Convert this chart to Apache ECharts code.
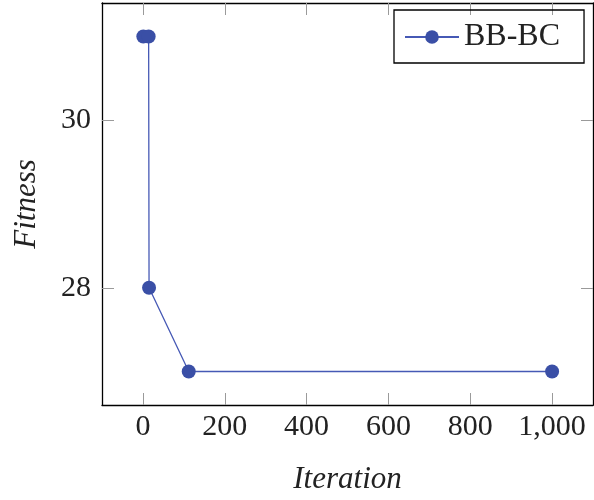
<!DOCTYPE html>
<html>
<head>
<meta charset="utf-8">
<script src="https://cdn.jsdelivr.net/npm/echarts@6/dist/echarts.min.js"></script>
<style>html,body{margin:0;padding:0;background:#fff;}#c{width:594px;height:500px;}</style>
</head>
<body>
<div id="c"></div>
<script>
const seriesName = 'BB-BC';
const iterations = [1, 14, 15, 112, 1000];
const fitness = [31, 31, 28, 27, 27];
const xTicks = [0, 200, 400, 600, 800, 1000];
const yTicks = [28, 30];
const xTitle = 'Iteration';
const yTitle = 'Fitness';

const FONT = '"Liberation Serif", "DejaVu Serif", serif';
const fmt = v => String(v).replace(/\B(?=(\d{3})+(?!\d))/g, ',');
const tickStyle = {show: true, inside: true, length: 12, lineStyle: {color: '#9a9a9a', width: 1}};
const lineAx = {show: true, onZero: false, lineStyle: {color: '#000', width: 1.3}};

const chart = echarts.init(document.getElementById('c'), null, {renderer: 'canvas'});
chart.setOption({
  animation: false,
  backgroundColor: '#fff',
  grid: {left: 102, right: 1, top: 3, bottom: 95, containLabel: false},
  legend: {
    show: true,
    left: 394, top: 10,
    orient: 'horizontal',
    padding: [11, 24, 10, 10],
    borderColor: '#000', borderWidth: 1.3,
    itemWidth: 54, itemHeight: 17,
    textStyle: {fontFamily: FONT, fontSize: 32, color: '#222'},
    data: [seriesName]
  },
  xAxis: [{
    type: 'value', position: 'bottom', min: -100, max: 1100,
    name: xTitle, nameLocation: 'middle', nameGap: 59,
    nameTextStyle: {fontFamily: FONT, fontStyle: 'italic', fontSize: 31, color: '#222'},
    axisLine: lineAx,
    axisTick: Object.assign({customValues: xTicks}, tickStyle),
    axisLabel: {customValues: xTicks, formatter: fmt, margin: 7, fontFamily: FONT, fontSize: 30, color: '#222'},
    splitLine: {show: false}
  }, {
    type: 'value', position: 'top', min: -100, max: 1100,
    axisLine: lineAx,
    axisTick: Object.assign({customValues: xTicks}, tickStyle),
    axisLabel: {show: false},
    splitLine: {show: false}
  }],
  yAxis: [{
    type: 'value', position: 'left', min: 26.6, max: 31.4,
    name: yTitle, nameLocation: 'middle', nameGap: 60,
    nameTextStyle: {fontFamily: FONT, fontStyle: 'italic', fontSize: 31, color: '#222'},
    axisLine: lineAx,
    axisTick: Object.assign({customValues: yTicks}, tickStyle),
    axisLabel: {customValues: yTicks, margin: 11, fontFamily: FONT, fontSize: 30, color: '#222'},
    splitLine: {show: false}
  }, {
    type: 'value', position: 'right', min: 26.6, max: 31.4,
    axisLine: lineAx,
    axisTick: Object.assign({customValues: yTicks}, tickStyle),
    axisLabel: {show: false},
    splitLine: {show: false}
  }],
  series: [{
    name: seriesName,
    type: 'line',
    xAxisIndex: 0, yAxisIndex: 0,
    data: iterations.map((x, i) => [x, fitness[i]]),
    symbol: 'circle', symbolSize: 14,
    showSymbol: true,
    itemStyle: {color: '#3A4FA6'},
    lineStyle: {color: '#4659B5', width: 1.3},
    emphasis: {disabled: true}
  }]
});
</script>
</body>
</html>
